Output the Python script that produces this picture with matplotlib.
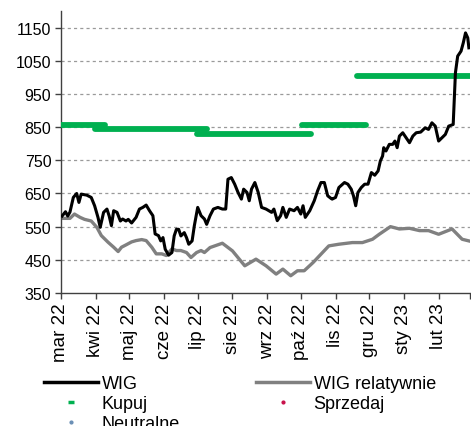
import numpy as np
import pandas as pd
import matplotlib
matplotlib.use("Agg")
import matplotlib.pyplot as plt
from matplotlib.lines import Line2D

plt.rcParams['font.family'] = ['Liberation Sans', 'DejaVu Sans']

start = pd.Timestamp("2022-03-01")

# WIG (day offset from 1 Mar 2022, value)
wig_day = [1, 4, 6, 8, 11, 14, 16, 18, 23, 27, 30, 33, 35, 38, 41, 43, 45, 47, 50, 53,
           55, 58, 60, 63, 67, 70, 73, 76, 79, 82, 84, 87, 89, 91, 93, 96, 99, 101, 103, 105,
           107, 110, 112, 114, 117, 119, 122, 125, 128, 130, 133, 136, 140, 144, 147, 149, 152, 155, 158, 161,
           163, 166, 168, 170, 173, 176, 179, 183, 188, 190, 193, 196, 198, 201, 204, 208, 211, 214, 216, 218,
           222, 226, 229, 232, 235, 238, 241, 242, 245, 248, 253, 256, 259, 261, 263, 265, 268, 271, 274, 277,
           280, 283, 285, 287, 288, 290, 293, 296, 298, 300, 302, 305, 308, 311, 314, 317, 321, 325, 328, 331,
           334, 337, 340, 343, 346, 350, 352, 354, 357, 359, 361, 363, 364]
wig_val = [582, 595, 582, 594, 638, 650, 623, 648, 645, 638, 613, 578, 548, 593, 603, 582, 553, 598, 593, 567,
           573, 567, 572, 561, 578, 603, 608, 615, 598, 583, 528, 523, 507, 517, 482, 464, 472, 522, 542, 542,
           522, 532, 517, 497, 507, 553, 608, 583, 573, 557, 583, 603, 608, 603, 603, 693, 698, 678, 653, 633,
           663, 653, 628, 663, 683, 653, 608, 603, 593, 603, 568, 583, 608, 578, 603, 598, 608, 588, 613, 578,
           598, 628, 658, 683, 683, 643, 635, 633, 638, 668, 683, 678, 663, 643, 613, 653, 668, 678, 678, 713,
           705, 718, 748, 763, 788, 778, 798, 798, 808, 788, 823, 833, 818, 803, 823, 833, 835, 848, 843, 863,
           853, 808, 818, 828, 853, 858, 1014, 1064, 1079, 1104, 1134, 1119, 1089]

# WIG relatywnie
rel_day = [1, 8, 12, 17, 21, 27, 32, 36, 42, 47, 51, 54, 58, 63, 67, 72, 76, 81, 85, 90,
           94, 99, 103, 107, 112, 116, 121, 125, 128, 133, 144, 153, 164, 174, 183, 192, 198, 205, 211, 217,
           225, 232, 239, 248, 260, 269, 278, 284, 294, 302, 311, 320, 328, 337, 349, 358, 364]
rel_val = [575, 575, 588, 578, 572, 567, 548, 523, 503, 488, 475, 488, 495, 504, 508, 511, 508, 488, 468, 468,
           463, 483, 478, 478, 472, 457, 472, 478, 472, 487, 500, 477, 432, 452, 432, 407, 422, 402, 417, 417,
           442, 467, 492, 497, 502, 502, 512, 527, 550, 543, 545, 538, 538, 527, 543, 512, 507]

# Kupuj (buy) levels: start day, end day, level
buy_start = [0, 30, 121, 215, 264]
buy_end = [39, 130, 223, 272, 365]
buy_level = [855, 845, 829, 855, 1004]

month_labels = ["mar 22", "kwi 22", "maj 22", "cze 22", "lip 22", "sie 22", "wrz 22",
                "paź 22", "lis 22", "gru 22", "sty 23", "lut 23", ""]
y_ticks = [350, 450, 550, 650, 750, 850, 950, 1050, 1150]

def to_dates(days):
    return start + pd.to_timedelta(np.array(days), unit="D")

fig = plt.figure(figsize=(4.71, 4.27), dpi=100)
ax = fig.add_axes([61 / 471, 1 - 294 / 427, 409 / 471, 282 / 427])

for yv in y_ticks[1:]:
    ax.axhline(yv, color="#9a9a9a", lw=0.9, ls=(0, (2.5, 2.5)), zorder=0)

ax.plot(to_dates(rel_day), rel_val, color="#808080", lw=2.4, zorder=2)
for s, e, lvl in zip(buy_start, buy_end, buy_level):
    ax.plot(to_dates([s, e]), [lvl, lvl], color="#00B050", lw=4.2,
            solid_capstyle="round", zorder=3)
ax.plot(to_dates(wig_day), wig_val, color="black", lw=2.2, zorder=4)

ax.set_ylim(350, 1200)
ax.set_yticks(y_ticks)
ax.set_xlim(start, start + pd.Timedelta(days=365))
ax.set_xticks(pd.date_range("2022-03-01", "2023-03-01", freq="MS"))
ax.set_xticklabels(month_labels, rotation=90)

for side in ["top", "right"]:
    ax.spines[side].set_visible(False)
for side in ["left", "bottom"]:
    ax.spines[side].set_color("#404040")
    ax.spines[side].set_linewidth(1.0)
ax.tick_params(axis="y", labelsize=11.5, length=4, width=1, color="#404040", pad=3)
ax.tick_params(axis="x", labelsize=13.5, length=4, width=1, color="#404040", pad=3)

# column-wise order: left column WIG / Kupuj / Neutralne, right column WIG relatywnie / Sprzedaj
handles = [
    Line2D([], [], color="black", lw=2.5),
    Line2D([], [], color="#00B050", marker="_", ls="none", ms=5, mew=2.5),
    Line2D([], [], color="#6A8FB5", marker="o", ls="none", ms=2),
    Line2D([], [], color="#808080", lw=2.5),
    Line2D([], [], color="#C8104A", marker="o", ls="none", ms=2),
]
labels = ["WIG", "Kupuj", "Neutralne", "WIG relatywnie", "Sprzedaj"]
fig.legend(handles, labels, loc="upper left", bbox_to_anchor=(44 / 471, 1 - 376 / 427),
           ncol=2, frameon=False, fontsize=13, handlelength=3.0, handletextpad=0.2,
           columnspacing=4.2, labelspacing=0.18, borderpad=0, borderaxespad=0)

fig.savefig("out.png", dpi=100)
